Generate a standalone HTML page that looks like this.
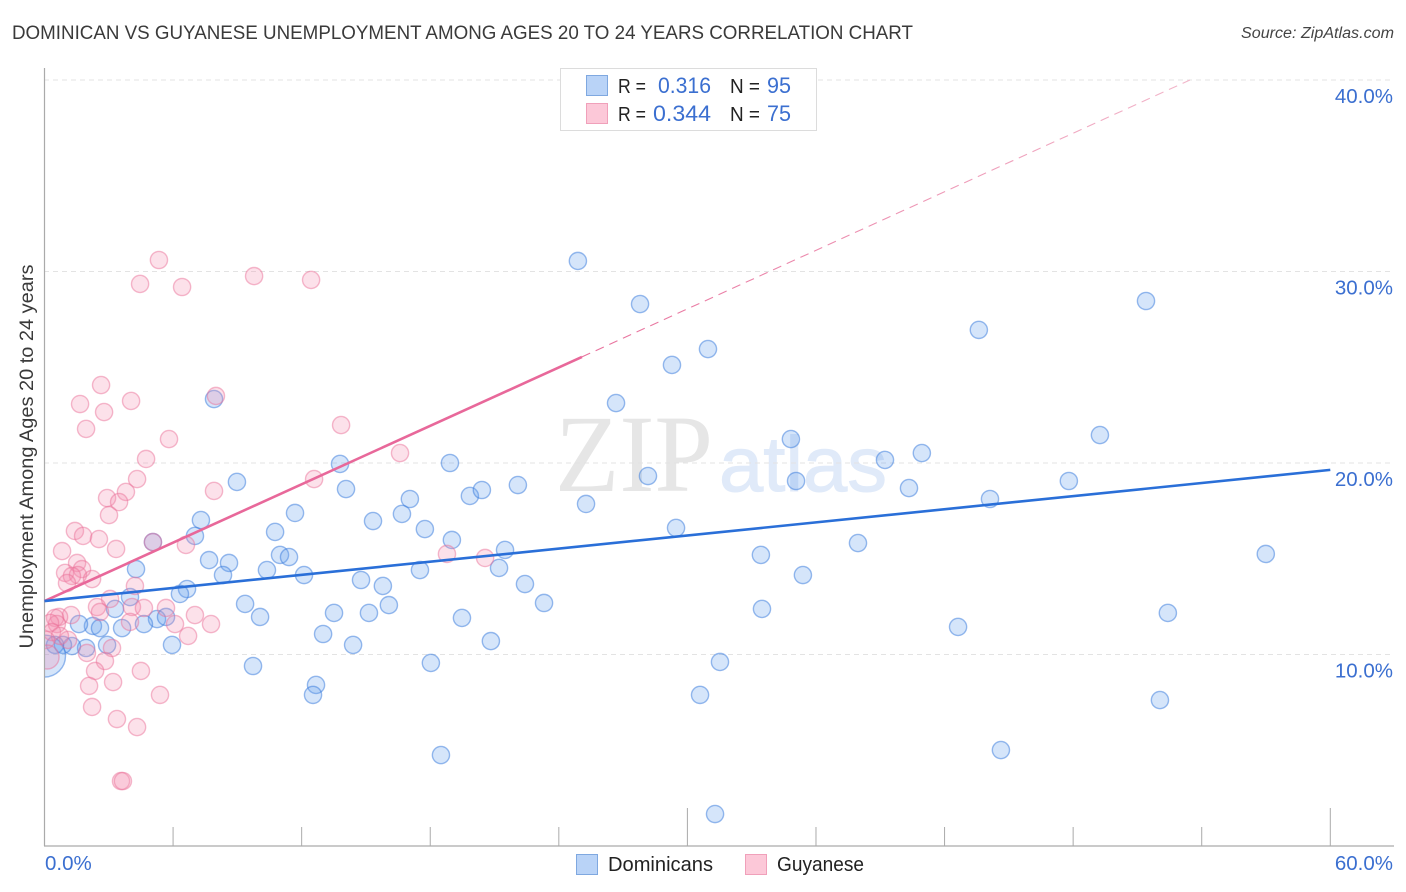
<!DOCTYPE html>
<html lang="en">
<head>
<meta charset="utf-8">
<title>Dominican vs Guyanese Unemployment Correlation Chart</title>
<style>
html,body{margin:0;padding:0;background:#fff;}
svg{display:block;font-family:"Liberation Sans",sans-serif;}
</style>
</head>
<body>
<svg id="chart" xmlns="http://www.w3.org/2000/svg" width="1406" height="892" viewBox="0 0 1406 892">
  <defs>
    <clipPath id="plot-clip"><rect x="45" y="60" width="1349" height="786"/></clipPath>
    <linearGradient id="extension-fade" gradientUnits="userSpaceOnUse" x1="582" y1="357" x2="1190" y2="80">
      <stop offset="0" stop-color="#e8709c"/>
      <stop offset="1" stop-color="#f2b6ca"/>
    </linearGradient>
  </defs>
  <text x="12" y="39" font-size="19.5" fill="#3a3a3a" textLength="901" lengthAdjust="spacingAndGlyphs">DOMINICAN VS GUYANESE UNEMPLOYMENT AMONG AGES 20 TO 24 YEARS CORRELATION CHART</text>
  <text x="1394" y="38" font-size="15.5" font-style="italic" fill="#444" text-anchor="end" textLength="153" lengthAdjust="spacingAndGlyphs">Source: ZipAtlas.com</text>
  <g>
    <text x="555" y="491" font-family="'Liberation Serif',serif" font-size="110" fill="#e6e6e6" textLength="158" lengthAdjust="spacingAndGlyphs">ZIP</text>
    <text x="719" y="491" font-size="78" fill="#e0eaf9" stroke="#e0eaf9" stroke-width="1" textLength="168" lengthAdjust="spacingAndGlyphs">atlas</text>
  </g>
  <g id="grid"></g>
  <g id="axes"></g>
  <g id="dominican-points" clip-path="url(#plot-clip)"></g>
  <g id="guyanese-points" clip-path="url(#plot-clip)"></g>
  <g id="trends"></g>
  <text transform="translate(33,456.5) rotate(-90)" font-size="19" fill="#3a3a3a" text-anchor="middle" textLength="384" lengthAdjust="spacingAndGlyphs">Unemployment Among Ages 20 to 24 years</text>
  <g id="tick-labels"></g>
  <g>
    <rect x="560.5" y="68.5" width="256" height="62" fill="#fff" stroke="#dcdcdc"/>
    <rect x="586.5" y="75.5" width="21" height="20" fill="#b9d3f7" stroke="#7fa8e0"/>
    <rect x="586.5" y="103.5" width="21" height="20" fill="#fcc8d8" stroke="#f0a0ba"/>
    <text x="618" y="93" font-size="20" fill="#222" textLength="28" lengthAdjust="spacingAndGlyphs">R =</text>
    <text x="658" y="93" font-size="22" fill="#3b6fd0" textLength="53" lengthAdjust="spacingAndGlyphs">0.316</text>
    <text x="730" y="93" font-size="20" fill="#222" textLength="30" lengthAdjust="spacingAndGlyphs">N =</text>
    <text x="767" y="93" font-size="22" fill="#3b6fd0" textLength="24" lengthAdjust="spacingAndGlyphs">95</text>
    <text x="618" y="121" font-size="20" fill="#222" textLength="28" lengthAdjust="spacingAndGlyphs">R =</text>
    <text x="653" y="121" font-size="22" fill="#3b6fd0" textLength="58" lengthAdjust="spacingAndGlyphs">0.344</text>
    <text x="730" y="121" font-size="20" fill="#222" textLength="30" lengthAdjust="spacingAndGlyphs">N =</text>
    <text x="767" y="121" font-size="22" fill="#3b6fd0" textLength="24" lengthAdjust="spacingAndGlyphs">75</text>
  </g>
  <g>
    <rect x="576.5" y="854.5" width="21" height="20" fill="#b9d3f7" stroke="#7fa8e0"/>
    <text x="608" y="871" font-size="20" fill="#222" textLength="105" lengthAdjust="spacingAndGlyphs">Dominicans</text>
    <rect x="745.5" y="854.5" width="21" height="20" fill="#fcc8d8" stroke="#f0a0ba"/>
    <text x="777" y="871" font-size="20" fill="#222" textLength="87" lengthAdjust="spacingAndGlyphs">Guyanese</text>
  </g>
</svg>
<script>
const yTicks = [10, 20, 30, 40];
const yTickLabels = ["10.0%", "20.0%", "30.0%", "40.0%"];
const xTicks = [0, 6, 12, 18, 24, 30, 36, 42, 48, 54, 60];
const xMajorTicks = [30, 60];
const xEndTicks = [0, 60];
const xEndLabels = ["0.0%", "60.0%"];

const domX = [24.89,27.79,30.96,29.28,26.67,7.91,51.40,43.60,49.25,34.83,40.94,39.22,13.79,18.92,28.16,8.98,14.07,19.85,20.41,22.09,35.07,40.34,47.80,44.12,17.05,25.27,7.30,11.69,15.33,16.68,17.75,10.76,29.47,7.02,5.06,19.01,37.96,56.99,33.43,21.49,10.99,11.41,7.68,8.61,10.38,4.27,17.52,12.11,8.33,21.21,14.77,35.39,22.42,15.79,6.65,6.32,3.99,9.36,16.07,23.31,33.48,52.42,3.29,13.51,15.14,19.48,10.06,5.25,4.64,5.67,3.62,2.26,2.59,1.61,42.63,13.00,20.83,14.40,5.95,2.92,1.94,1.28,0.86,0.49,18.03,31.52,9.73,12.67,12.53,30.59,52.05,18.50,44.63,31.29];
const domY = [30.55,28.30,25.95,25.12,23.13,23.34,28.46,26.95,21.46,21.25,20.52,20.16,19.95,20.00,19.32,19.01,18.64,18.28,18.59,18.85,19.06,18.69,19.06,18.12,18.12,17.86,17.02,17.39,16.97,17.34,16.55,16.40,16.61,16.19,15.87,15.98,15.82,15.25,15.20,15.46,15.20,15.09,14.93,14.78,14.41,14.46,14.41,14.15,14.15,14.52,13.89,14.15,13.68,13.58,13.42,13.16,13.00,12.64,12.58,12.69,12.38,12.17,12.38,12.17,12.17,11.91,11.96,11.85,11.59,11.96,11.38,11.49,11.38,11.59,11.44,11.07,10.70,10.50,10.50,10.50,10.34,10.44,10.50,10.50,9.56,9.61,9.40,8.41,7.89,7.89,7.62,4.75,5.01,1.67];
const domLargeX = [0];
const domLargeY = [9.92];

const guyX = [2.92,3.80,3.48,3.01,4.32,7.91,1.42,1.80,2.54,0.82,3.34,6.60,5.06,1.52,1.75,0.96,1.56,1.28,2.22,1.05,4.22,3.06,4.08,2.45,2.59,4.64,5.67,7.02,7.77,6.09,6.70,1.24,0.68,0.49,0.58,0.26,3.99,0.35,1.10,3.15,1.98,2.82,2.36,4.50,3.20,2.08,5.39,2.22,3.38,4.32,3.57,3.66,5.34,4.46,6.42,9.78,12.44,8.00,2.64,1.66,4.04,2.78,1.94,13.84,5.81,16.59,4.74,12.58,18.78,20.56,0.72,0.07];
const guyY = [18.17,18.49,17.96,17.28,19.16,18.54,16.45,16.19,16.03,15.40,15.51,15.72,15.87,14.78,14.46,14.26,14.15,14.10,13.94,13.73,13.58,12.90,12.48,12.48,12.22,12.43,12.43,12.06,11.59,11.59,10.97,12.06,11.96,11.91,11.59,11.65,11.70,11.17,10.76,10.34,10.08,9.66,9.14,9.14,8.56,8.36,7.89,7.26,6.63,6.21,3.39,3.39,30.60,29.35,29.19,29.76,29.56,23.50,24.07,23.08,23.24,22.66,21.78,21.98,21.25,20.52,20.21,19.16,15.25,15.04,10.97,10.76];
const guyLargeX = [0.12];
const guyLargeY = [9.87];

const domTrendX = [0, 60];
const domTrendY = [12.79, 19.64];
const guyTrendX = [0, 25.08];
const guyTrendY = [12.79, 25.54];
const guyExtensionX = [25.08, 53.45];
const guyExtensionY = [25.54, 40];

function sx(v) { return 44.5 + v * 21.43; }
function sy(v) { return 654.5 - (v - 10) * 19.15; }

const NS = 'http://www.w3.org/2000/svg';
function make(tag, parentId, attrs) {
  const el = document.createElementNS(NS, tag);
  for (const k in attrs) el.setAttribute(k, attrs[k]);
  document.getElementById(parentId).appendChild(el);
  return el;
}

yTicks.forEach(function (t) {
  const el = make('line', 'grid', {x1: 44, x2: 1394, y1: sy(t), y2: sy(t), stroke: '#e3e3e3', 'stroke-width': 1, 'stroke-dasharray': '5 4'});
  
  
});

const yAxis = make('line', 'axes', {x1: 44.5, x2: 44.5, y1: 68, y2: 846, stroke: '#aaaaaa', 'stroke-width': 1.2});


const xAxis = make('line', 'axes', {x1: 44, x2: 1394, y1: 846, y2: 846, stroke: '#aaaaaa', 'stroke-width': 1.2});



xTicks.forEach(function (t) {
  const top = xMajorTicks.indexOf(t) >= 0 ? 808 : 827;
  const el = make('line', 'axes', {x1: sx(t), x2: sx(t), y1: top, y2: 846, stroke: '#aaaaaa', 'stroke-width': 1});
  
  
});

yTicks.forEach(function (t, i) {
  const el = make('text', 'tick-labels', {x: 1393, y: sy(t) + 23, 'font-size': 20.5, fill: '#3b6fd0', 'text-anchor': 'end'});
  el.textContent = yTickLabels[i];
  
  
});
xEndTicks.forEach(function (t, i) {
  const el = t === 0
    ? make('text', 'tick-labels', {x: 45, y: 870, 'font-size': 20.5, fill: '#3b6fd0'})
    : make('text', 'tick-labels', {x: 1393, y: 870, 'font-size': 20.5, fill: '#3b6fd0', 'text-anchor': 'end'});
  el.textContent = xEndLabels[i];
  
  
});

const domStyle = {fill: 'rgba(100,160,235,0.27)', stroke: 'rgba(60,125,220,0.52)', 'stroke-width': 1.4};
const guyStyle = {fill: 'rgba(245,140,175,0.26)', stroke: 'rgba(235,110,150,0.48)', 'stroke-width': 1.4};
function circleAttrs(x, y, r, style) {
  return Object.assign({cx: sx(x), cy: sy(y), r: r}, style);
}

domX.forEach(function (x, i) {
  const c = make('circle', 'dominican-points', circleAttrs(x, domY[i], 8.6, domStyle));
  
  
});
domLargeX.forEach(function (x, i) {
  const c = make('circle', 'dominican-points', circleAttrs(x, domLargeY[i], 21, domStyle));
  
  
});
guyX.forEach(function (x, i) {
  const c = make('circle', 'guyanese-points', circleAttrs(x, guyY[i], 8.6, guyStyle));
  
  
});
guyLargeX.forEach(function (x, i) {
  const c = make('circle', 'guyanese-points', circleAttrs(x, guyLargeY[i], 12, guyStyle));
  
  
});

const ext = make('line', 'trends', {x1: sx(guyExtensionX[0]), y1: sy(guyExtensionY[0]), x2: sx(guyExtensionX[1]), y2: sy(guyExtensionY[1]), stroke: 'url(#extension-fade)', 'stroke-width': 1.1, 'stroke-dasharray': '9 6'});


const guyLine = make('line', 'trends', {x1: sx(guyTrendX[0]), y1: sy(guyTrendY[0]), x2: sx(guyTrendX[1]), y2: sy(guyTrendY[1]), stroke: '#e8689a', 'stroke-width': 2.6});


const domLine = make('line', 'trends', {x1: sx(domTrendX[0]), y1: sy(domTrendY[0]), x2: sx(domTrendX[1]), y2: sy(domTrendY[1]), stroke: '#2a6fd8', 'stroke-width': 2.6});


</script>
</body>
</html>
